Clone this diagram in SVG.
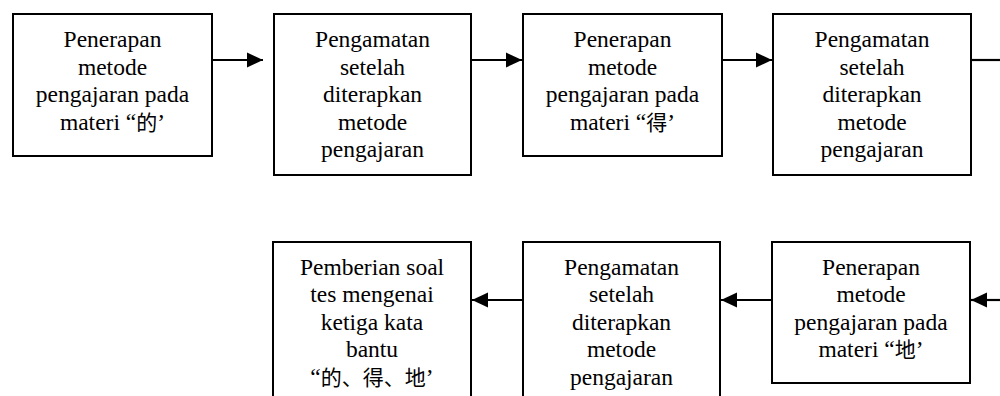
<svg xmlns="http://www.w3.org/2000/svg" width="1000" height="396" viewBox="0 0 1000 396">
<style>
.box{fill:#fff;stroke:#000;stroke-width:2}
.c{fill:none;stroke:#000;stroke-width:2.2}
.cjk{font-family:'Noto Sans CJK SC',sans-serif;font-size:21px}
</style>
<defs>
<marker id="ah" markerUnits="userSpaceOnUse" markerWidth="18" markerHeight="18" viewBox="0 0 18 18" refX="16" refY="9" orient="auto">
<path d="M0,1.5 L16,9 L0,16.5 Z" fill="#000"/>
</marker>
</defs>
<rect width="1000" height="396" fill="#fff"/>
<g id="connectors">
<line class="c" x1="212" y1="60" x2="263" y2="60" marker-end="url(#ah)"/>
<line class="c" x1="471" y1="60" x2="522" y2="60" marker-end="url(#ah)"/>
<line class="c" x1="722" y1="60" x2="772" y2="60" marker-end="url(#ah)"/>
<line class="c" x1="971" y1="60" x2="1000" y2="60"/>
<line class="c" x1="1000" y1="300" x2="971" y2="300" marker-end="url(#ah)"/>
<line class="c" x1="772" y1="300" x2="721" y2="300" marker-end="url(#ah)"/>
<line class="c" x1="523" y1="300" x2="472" y2="300" marker-end="url(#ah)"/>
</g>
<g font-family="'Liberation Serif', serif" font-size="23.5" text-anchor="middle" fill="#000">
<g id="n1">
<rect class="box" x="13" y="14" width="199" height="142"/>
<text x="112.5" y="47">Penerapan</text>
<text x="112.5" y="74.5">metode</text>
<text x="112.5" y="102">pengajaran pada</text>
<text x="112.5" y="129.5">materi “<tspan class="cjk">的</tspan>’</text>
</g>
<g id="n2">
<rect class="box" x="274" y="14" width="197" height="161"/>
<text x="372.5" y="47">Pengamatan</text>
<text x="372.5" y="74.5">setelah</text>
<text x="372.5" y="102">diterapkan</text>
<text x="372.5" y="129.5">metode</text>
<text x="372.5" y="157">pengajaran</text>
</g>
<g id="n3">
<rect class="box" x="523" y="14" width="199" height="142"/>
<text x="622.5" y="47">Penerapan</text>
<text x="622.5" y="74.5">metode</text>
<text x="622.5" y="102">pengajaran pada</text>
<text x="622.5" y="129.5">materi “<tspan class="cjk">得</tspan>’</text>
</g>
<g id="n4">
<rect class="box" x="773" y="14" width="198" height="161"/>
<text x="872" y="47">Pengamatan</text>
<text x="872" y="74.5">setelah</text>
<text x="872" y="102">diterapkan</text>
<text x="872" y="129.5">metode</text>
<text x="872" y="157">pengajaran</text>
</g>
<g id="n5">
<rect class="box" x="273" y="242" width="198" height="170"/>
<text x="372" y="275">Pemberian soal</text>
<text x="372" y="302">tes mengenai</text>
<text x="372" y="330">ketiga kata</text>
<text x="372" y="357">bantu</text>
<text x="372" y="385">“<tspan class="cjk">的、得、地</tspan>’</text>
</g>
<g id="n6">
<rect class="box" x="523" y="242" width="197" height="170"/>
<text x="621.5" y="275">Pengamatan</text>
<text x="621.5" y="302">setelah</text>
<text x="621.5" y="330">diterapkan</text>
<text x="621.5" y="357">metode</text>
<text x="621.5" y="385">pengajaran</text>
</g>
<g id="n7">
<rect class="box" x="772" y="242" width="198" height="141"/>
<text x="871" y="275">Penerapan</text>
<text x="871" y="302">metode</text>
<text x="871" y="330">pengajaran pada</text>
<text x="871" y="357">materi “<tspan class="cjk">地</tspan>’</text>
</g>
</g>
</svg>
